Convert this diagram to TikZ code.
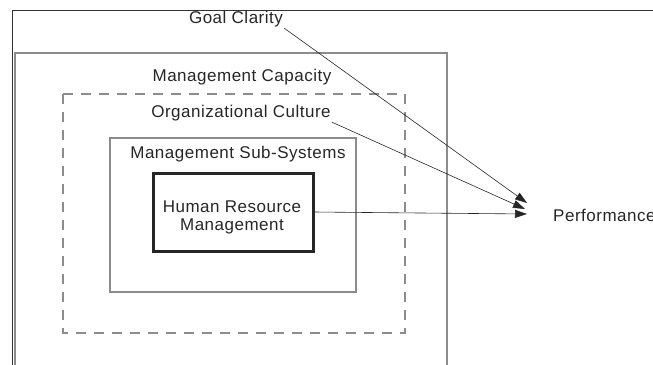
\documentclass[tikz,border=0pt]{standalone}
\usepackage{fontspec}
\setmainfont{Liberation Sans}[LetterSpace=3]
\usetikzlibrary{arrows.meta}
\begin{document}
\begin{tikzpicture}[x=1pt,y=-1pt,
    lbl/.style={font=\fontsize{17}{18}\selectfont,inner sep=1pt,text=black!85},
    graybox/.style={draw=black!45,line width=1.2pt},
    link/.style={draw=black!85,line width=0.6pt,-{Triangle[length=12pt,width=8pt]}}]
  \useasboundingbox (0,0) rectangle (653,364);
  % frames
  \draw[black!80,line width=0.8pt] (12,400) -- (12,10) -- (700,10);
  \draw[graybox] (15,400) -- (15,53) -- (447,53) -- (447,400);
  \draw[graybox,dash pattern=on 10pt off 8pt] (63,94) rectangle (405,333);
  \draw[graybox] (110,138) rectangle (356,292);
  \draw[black!85,line width=3pt] (153,173) rectangle (313,251);
  % labels
  \node[lbl] (goal) at (236,19) {Goal Clarity};
  \node[lbl] (capacity) at (242,77) {Management Capacity};
  \node[lbl] (culture) at (241,113) {Organizational Culture};
  \node[lbl] (subsys) at (238,154) {Management Sub-Systems};
  \node[lbl,align=center] (hrm) at (232,217) {Human Resource\\Management};
  \node[lbl,anchor=west] (perf) at (552,215) {Performance};
  \coordinate (hrmout) at (314,212);
  \coordinate (tipa) at (527,203);
  \coordinate (tipb) at (525,209);
  \coordinate (tipc) at (527,214);
  % influences
  \draw[link] (goal.south east) -- (tipa);
  \draw[link] (culture.south east) -- (tipb);
  \draw[link] (hrmout) -- (tipc);
\end{tikzpicture}
\end{document}
